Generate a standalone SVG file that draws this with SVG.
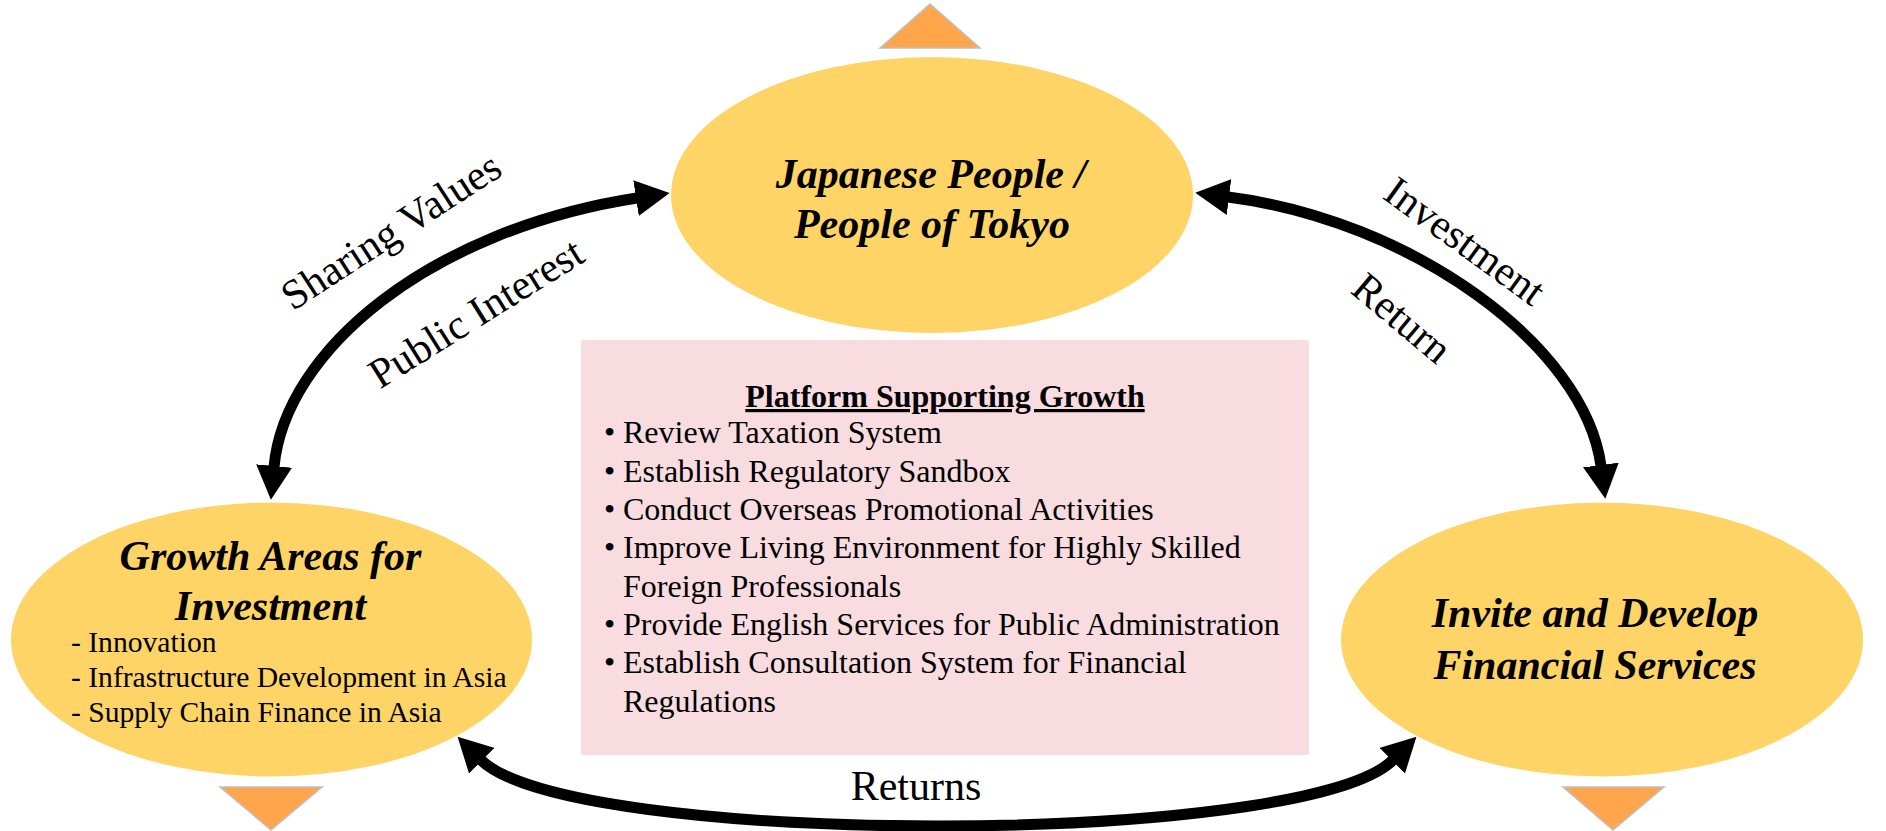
<svg xmlns="http://www.w3.org/2000/svg" width="1886" height="831" viewBox="0 0 1886 831">
<defs>
<style>
.node{fill:#FFD466;}
.tri{fill:#FFA64D;stroke:#BFBFBF;stroke-width:1.5;}
.title{font-family:"Liberation Serif","Times New Roman",serif;font-weight:bold;font-style:italic;font-size:42px;fill:#000;text-anchor:middle;}
.item{font-family:"Liberation Serif","Times New Roman",serif;font-size:29.6px;fill:#000;}
.body{font-family:"Liberation Serif","Times New Roman",serif;font-size:32px;fill:#000;}
.lbl{font-family:"Liberation Serif","Times New Roman",serif;font-size:42px;fill:#000;text-anchor:middle;}
.conn{fill:none;stroke:#000;stroke-width:11;marker-start:url(#head);marker-end:url(#head);}
</style>
<marker id="head" viewBox="0 0 34 36" refX="1" refY="18" markerWidth="34" markerHeight="36" markerUnits="userSpaceOnUse" orient="auto-start-reverse">
<path d="M0,0 L34,18 L0,36 z" fill="#000"/>
</marker>
</defs>
<rect width="1886" height="831" fill="#fff"/>

<g id="tri-top"><polygon class="tri" points="880,48 930,4 980,48"/></g>
<g id="tri-left"><polygon class="tri" points="220,787 322,787 271,830"/></g>
<g id="tri-right"><polygon class="tri" points="1563,787 1664,787 1613,830"/></g>

<g id="node-people">
<ellipse class="node" cx="932" cy="195" rx="261" ry="138"/>
<text class="title" x="931" y="188">Japanese People /</text>
<text class="title" x="932" y="238">People of Tokyo</text>
</g>

<g id="node-growth">
<ellipse class="node" cx="271.5" cy="639.5" rx="260.5" ry="137"/>
<text class="title" x="270.5" y="570">Growth Areas for</text>
<text class="title" x="270.5" y="620">Investment</text>
<text class="item" x="71" y="652">- Innovation</text>
<text class="item" x="71" y="687">- Infrastructure Development in Asia</text>
<text class="item" x="71" y="722">- Supply Chain Finance in Asia</text>
</g>

<g id="node-financial">
<ellipse class="node" cx="1602" cy="639.5" rx="261" ry="137"/>
<text class="title" x="1595" y="627">Invite and Develop</text>
<text class="title" x="1595" y="679">Financial Services</text>
</g>

<g id="node-platform">
<rect x="581" y="340" width="728" height="415" rx="2" fill="#F8DCE0"/>
<text class="body" x="945" y="407" text-anchor="middle" font-weight="bold" text-decoration="underline">Platform Supporting Growth</text>
<g class="body">
<text x="604" y="443">•</text><text x="623" y="443">Review Taxation System</text>
<text x="604" y="482">•</text><text x="623" y="482">Establish Regulatory Sandbox</text>
<text x="604" y="520">•</text><text x="623" y="520">Conduct Overseas Promotional Activities</text>
<text x="604" y="558">•</text><text x="623" y="558">Improve Living Environment for Highly Skilled</text>
<text x="623" y="597">Foreign Professionals</text>
<text x="604" y="635">•</text><text x="623" y="635">Provide English Services for Public Administration</text>
<text x="604" y="673">•</text><text x="623" y="673">Establish Consultation System for Financial</text>
<text x="623" y="712">Regulations</text>
</g>
</g>

<g id="connectors">
<path class="conn" d="M274,467 C285,350 430,230 637,198"/>
<path class="conn" d="M1228,197 C1410,220 1585,345 1601,466"/>
<path class="conn" d="M481,760 C570,848 1304,848 1393,760"/>
<text class="lbl" transform="translate(391,231) rotate(-33)" x="0" y="14">Sharing Values</text>
<text class="lbl" transform="translate(476,313) rotate(-32)" x="0" y="14">Public Interest</text>
<text class="lbl" transform="translate(1465,241) rotate(36)" x="0" y="14">Investment</text>
<text class="lbl" transform="translate(1402,318) rotate(40)" x="0" y="14">Return</text>
<text class="lbl" x="916" y="800">Returns</text>
</g>
</svg>
